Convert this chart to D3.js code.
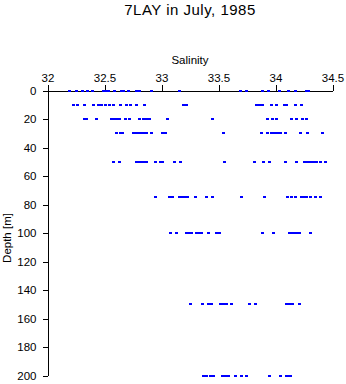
<!DOCTYPE html>
<html>
<head>
<meta charset="utf-8">
<script src="https://cdn.jsdelivr.net/npm/d3@7"></script>
<style>
  html, body { margin: 0; padding: 0; background: #fff; }
  svg { display: block; font-family: "Liberation Sans", Arial, Helvetica, sans-serif; }
</style>
</head>
<body>
<svg id="chart" width="346" height="384"></svg>
<script>
// ---- data ----
const title = "7LAY in July, 1985";
const xLabel = "Salinity";
const yLabel = "Depth [m]";
const xTicks = [32, 32.5, 33, 33.5, 34, 34.5];
const xTickLabels = ["32", "32.5", "33", "33.5", "34", "34.5"];
const yTicks = [0, 20, 40, 60, 80, 100, 120, 140, 160, 180, 200];
const yTickLabels = ["0", "20", "40", "60", "80", "100", "120", "140", "160", "180", "200"];
const depths = [0, 10, 20, 30, 50, 75, 100, 150, 200];

const sal0 = [32.193, 32.252, 32.311, 32.351, 32.392, 32.491, 32.509, 32.532, 32.585, 32.646, 32.664, 32.711, 32.784, 32.807, 32.910, 33.158, 33.690, 33.749, 33.886, 33.939, 34.035, 34.116, 34.175, 34.275, 34.291];
const sal10 = [32.228, 32.263, 32.325, 32.404, 32.447, 32.477, 32.506, 32.541, 32.579, 32.640, 32.693, 32.725, 32.781, 32.851, 33.195, 33.217, 33.835, 33.861, 33.888, 33.962, 34.011, 34.077, 34.098, 34.175, 34.225];
const sal20 = [32.322, 32.339, 32.427, 32.565, 32.585, 32.609, 32.632, 32.682, 32.719, 32.807, 32.842, 32.866, 32.895, 33.053, 33.447, 33.930, 33.975, 34.011, 34.138, 34.182, 34.239, 34.274];
const sal30 = [32.603, 32.638, 32.660, 32.756, 32.778, 32.800, 32.826, 32.848, 32.872, 32.910, 33.011, 33.035, 33.546, 33.879, 33.930, 33.962, 33.989, 34.015, 34.047, 34.088, 34.219, 34.281, 34.408];
const sal50 = [32.579, 32.632, 32.778, 32.802, 32.825, 32.848, 32.872, 32.947, 32.989, 33.012, 33.111, 33.167, 33.553, 33.816, 33.895, 33.947, 34.088, 34.184, 34.252, 34.278, 34.304, 34.331, 34.357, 34.392, 34.439];
const sal75 = [32.947, 33.070, 33.100, 33.158, 33.179, 33.199, 33.228, 33.298, 33.392, 33.447, 33.702, 33.901, 34.105, 34.140, 34.175, 34.228, 34.252, 34.270, 34.311, 34.354, 34.395];
const sal100 = [33.079, 33.132, 33.223, 33.243, 33.267, 33.311, 33.331, 33.354, 33.412, 33.480, 33.506, 33.889, 33.980, 34.120, 34.144, 34.167, 34.190, 34.211, 34.307];
const sal150 = [33.252, 33.363, 33.412, 33.436, 33.521, 33.544, 33.568, 33.618, 33.769, 33.822, 34.100, 34.123, 34.146, 34.211];
const sal200 = [33.368, 33.398, 33.433, 33.456, 33.539, 33.561, 33.585, 33.649, 33.702, 33.749, 33.947, 34.041, 34.094, 34.117, 34.135];

const salinityByDepth = [sal0, sal10, sal20, sal30, sal50, sal75, sal100, sal150, sal200];
const points = [];
depths.forEach((d, i) => salinityByDepth[i].forEach(s => points.push({ depth: d, sal: s })));

// ---- layout ----
const svg = d3.select("#chart");
const x = d3.scaleLinear().domain([32, 34.5]).range([47.5, 332.5]);
const y = d3.scaleLinear().domain([0, 200]).range([90.5, 375.5]);

// title
svg.append("text")
  .attr("x", 190).attr("y", 15)
  .attr("text-anchor", "middle")
  .style("font-size", "15px")
  .style("letter-spacing", "0.5px")
  .text(title);

// x axis (top)
const xAxis = d3.axisTop(x)
  .tickValues(xTicks)
  .tickFormat((d, i) => xTickLabels[i])
  .tickSize(6).tickSizeOuter(0).tickPadding(3);
const gx = svg.append("g").attr("transform", `translate(0,${y(0)})`).call(xAxis);
gx.selectAll("text").style("font-size", "11.5px").attr("fill", "#000");
gx.selectAll("line, path").attr("stroke", "#000").attr("shape-rendering", "crispEdges");

// y axis (left)
const yAxis = d3.axisLeft(y)
  .tickValues(yTicks)
  .tickFormat((d, i) => yTickLabels[i])
  .tickSize(5).tickSizeOuter(0).tickPadding(6);
const gy = svg.append("g").attr("transform", `translate(${x(32)},0)`).call(yAxis);
gy.selectAll("text").style("font-size", "11.5px").attr("fill", "#000");
gy.selectAll("line, path").attr("stroke", "#000").attr("shape-rendering", "crispEdges");

// axis labels
svg.append("text")
  .attr("x", 190).attr("y", 64)
  .attr("text-anchor", "middle")
  .style("font-size", "11.5px")
  .text(xLabel);

svg.append("text")
  .attr("transform", `translate(11,238) rotate(-90)`)
  .attr("text-anchor", "middle")
  .style("font-size", "11.5px")
  .text(yLabel);

// points
svg.append("g")
  .selectAll("rect")
  .data(points)
  .join("rect")
  .attr("x", d => Math.round(x(d.sal) - 1.5))
  .attr("y", d => Math.round(y(d.depth) - 1))
  .attr("width", 3)
  .attr("height", 2)
  .attr("fill", "#0000ff")
  .attr("shape-rendering", "crispEdges");
</script>
</body>
</html>
